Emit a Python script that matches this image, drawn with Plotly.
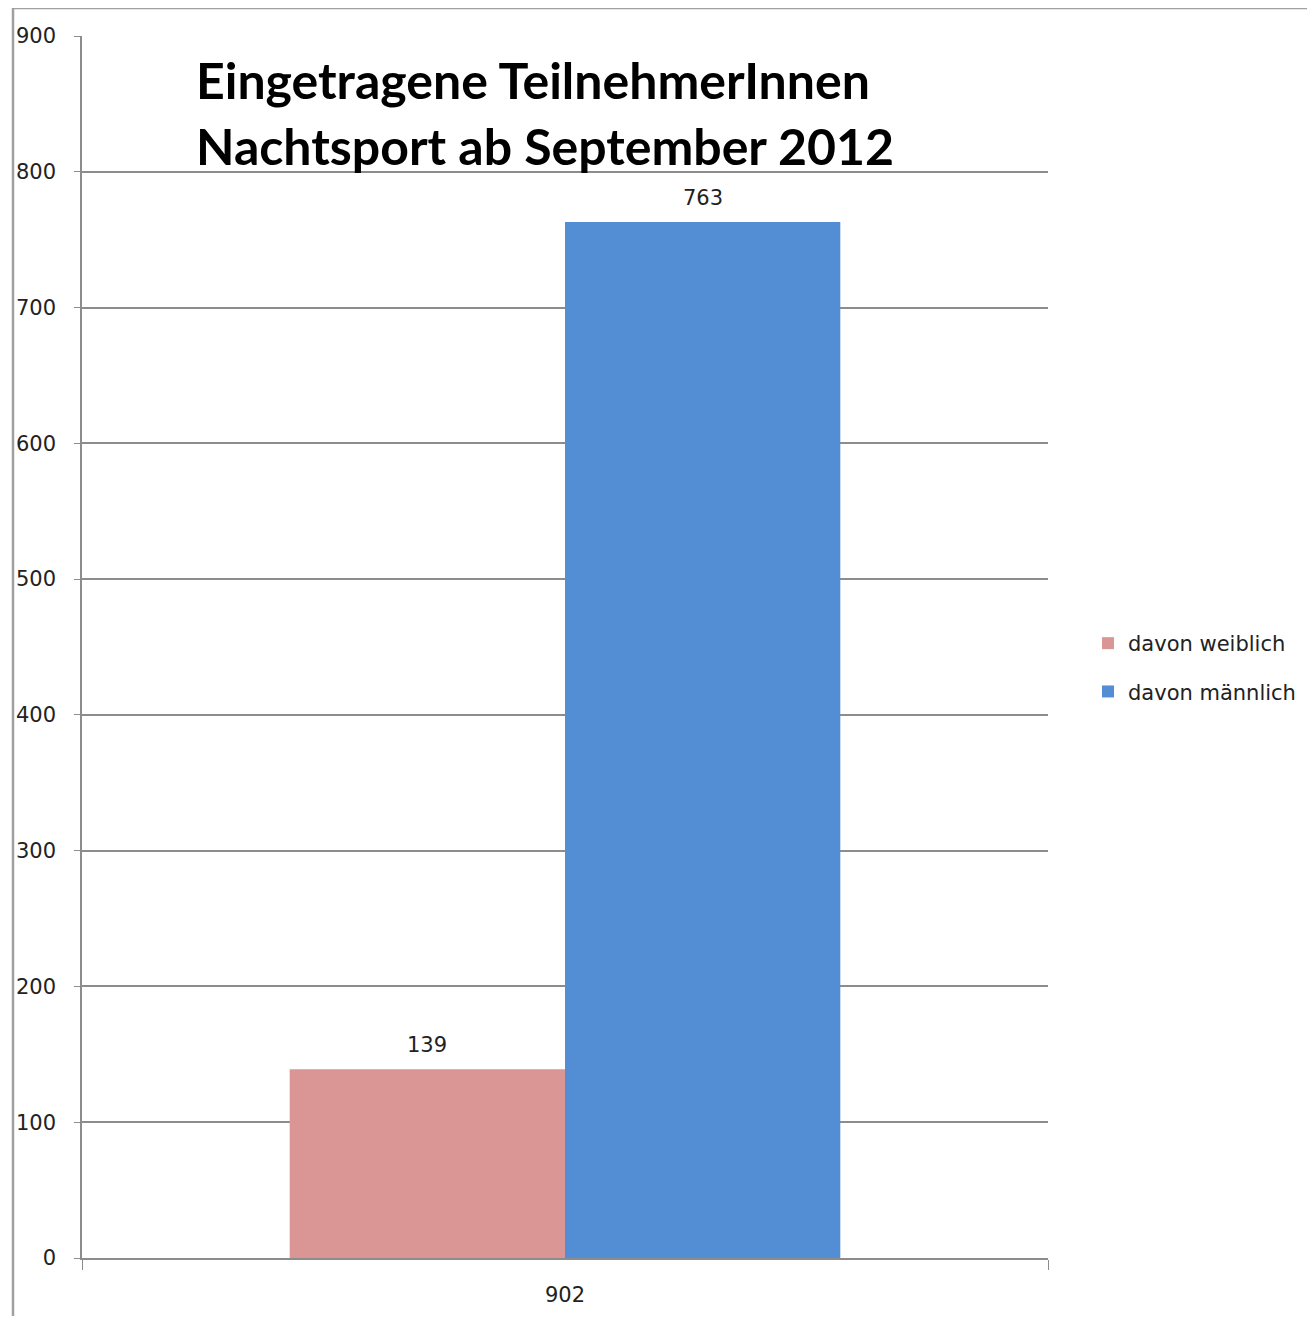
import plotly.graph_objects as go

categories = ["902"]
series_names = ["davon weiblich", "davon männlich"]
weiblich = [139]
maennlich = [763]
y_ticks = [0, 100, 200, 300, 400, 500, 600, 700, 800, 900]
title_lines = ["Eingetragene TeilnehmerInnen", "Nachtsport ab September 2012"]

OFF = 8  # default page body margin
W, H = 1315 - OFF, 1308
L, R, T, B = 82, 1048, 36, 1258  # plot area in screen pixels

def px(x):
    return (x - L) / (R - L)

def py(y):
    return (B - y) / (B - T)

tick_font = dict(family="DejaVu Sans", size=21, color="#222222")
grid = "#8c8c8c"
bargap = 0.43

fig = go.Figure()
fig.add_trace(go.Bar(
    x=categories, y=weiblich, name=series_names[0],
    marker=dict(color="#DA9694", line=dict(width=0)), legendgroup="a",
))
fig.add_trace(go.Bar(
    x=categories, y=maennlich, name=series_names[1],
    marker=dict(color="#538ED5", line=dict(width=0)), legendgroup="b",
))

bar_px = (R - L) * (1 - bargap) / 2
annotations = []
for vals, sign in ((weiblich, -1), (maennlich, 1)):
    for i, v in enumerate(vals):
        annotations.append(dict(
            x=i, y=v, text=str(v), xref="x", yref="y", showarrow=False,
            xanchor="center", yanchor="bottom", xshift=sign * bar_px / 2, yshift=10,
            font=tick_font,
        ))
for i, line in enumerate(title_lines):
    annotations.append(dict(
        text="<b>" + line + "</b>", x=px(194), y=py([80, 146][i]),
        xref="paper", yref="paper", xanchor="left", yanchor="middle",
        showarrow=False, font=dict(family="Lato", size=50, color="#000000"),
    ))

fig.update_layout(
    width=W, height=H,
    margin=dict(l=L - OFF, r=W - (R - OFF), t=T - OFF, b=H - (B - OFF), pad=0),
    paper_bgcolor="white", plot_bgcolor="white",
    barmode="group", bargap=bargap, bargroupgap=0,
    showlegend=True,
    legend=dict(x=px(1088), y=py(623), xanchor="left", yanchor="top",
                font=dict(family="DejaVu Sans", size=21, color="#222222"),
                tracegroupgap=18, bgcolor="rgba(0,0,0,0)"),
    annotations=annotations,
    xaxis=dict(type="category", range=[-0.5, len(categories) - 0.5], automargin=False,
               showgrid=False, showline=True, linecolor=grid, linewidth=1.5,
               ticks="outside", ticklen=10, tickcolor=grid, tickson="boundaries",
               tickfont=tick_font, ticklabelstandoff=17, tickangle=0, zeroline=False),
    yaxis=dict(range=[0, 900], tickvals=y_ticks, automargin=False,
               showgrid=True, gridcolor=grid, gridwidth=1.5,
               showline=True, linecolor=grid, linewidth=1.5, ticks="outside", ticklen=6,
               tickcolor=grid, tickfont=tick_font, ticklabelstandoff=14, zeroline=False),
    shapes=[dict(type="path", xref="paper", yref="paper",
                 path=f"M {px(13)} {py(1330)} L {px(13)} {py(8)} L {px(1320)} {py(8)}",
                 line=dict(color="#a0a0a0", width=2.5), layer="below")],
)

fig.write_html("out.html")
